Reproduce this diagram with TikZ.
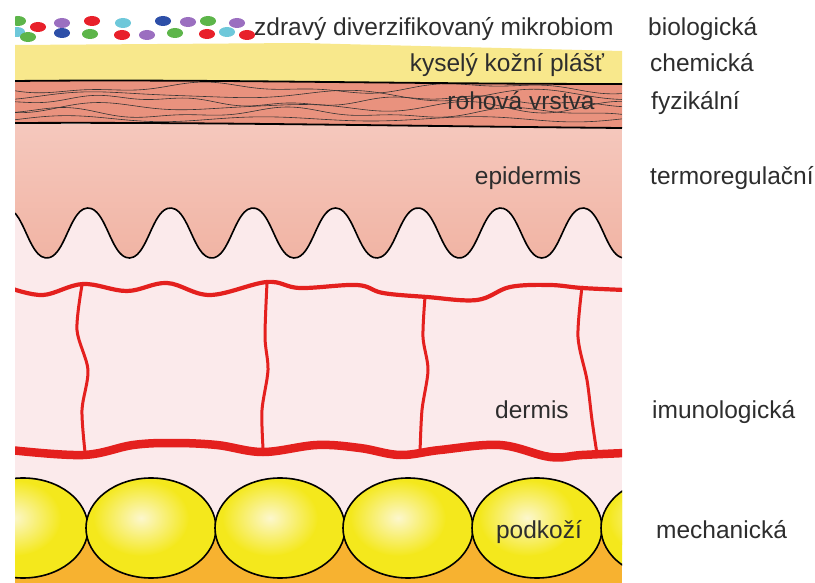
\documentclass[tikz,border=0pt]{standalone}
\usepackage{fontspec}
\setmainfont{Liberation Sans}
\usepackage{tikz}

\definecolor{TextGrey}{RGB}{45, 45, 45}
\definecolor{MantleYellow}{RGB}{248, 232, 140}
\definecolor{HornSalmon}{RGB}{233, 146, 126}
\definecolor{EpiTop}{RGB}{245, 200, 189}
\definecolor{EpiMid}{RGB}{249, 218, 209}
\definecolor{EpiLow}{RGB}{241, 180, 164}
\definecolor{DermPink}{RGB}{251, 234, 235}
\definecolor{VesselRed}{RGB}{228, 32, 30}
\definecolor{FatOrange}{RGB}{247, 178, 48}
\definecolor{CellYellow}{RGB}{244, 232, 28}
\definecolor{CellLight}{RGB}{252, 247, 205}
\definecolor{mred}{RGB}{232, 32, 42}
\definecolor{mgreen}{RGB}{93, 181, 74}
\definecolor{mpurple}{RGB}{155, 111, 192}
\definecolor{mblue}{RGB}{45, 79, 168}
\definecolor{mcyan}{RGB}{110, 200, 218}

\begin{document}
\begin{tikzpicture}[
    x=1pt, y=-1pt,
    declare function={wave(\t)=233-25*tanh(0.7*cos(4.3636*(\t-88)))/tanh(0.7);},
    lbl/.style={font=\fontsize{24.5}{28}\selectfont, text=TextGrey, inner sep=0pt, anchor=base},
    fn/.style={lbl, anchor=base west},
    vessel/.style={draw=VesselRed, line cap=round, line join=round},
    fatcell/.style={draw=black, line width=1.6pt}
]
    \useasboundingbox (0,0) rectangle (815,583);

    \begin{scope}
    \clip (15,0) rectangle (622,583);

    % dermis background
    \fill[DermPink] (15,125) rectangle (622,583);

    % epidermis down to the wavy junction
    \shade[top color=EpiTop, middle color=EpiMid, bottom color=EpiLow]
        (15,124) -- (622,124) -- plot[domain=622:15, samples=160, smooth] (\x,{wave(\x)}) -- cycle;
    \draw[line width=1.6pt] plot[domain=15:622, samples=160, smooth] (\x,{wave(\x)});

    % acid mantle
    \fill[MantleYellow] (15,45) -- (300,43) -- (622,51) -- (622,86) -- (15,84) -- cycle;

    % stratum corneum
    \fill[HornSalmon] (15,81) .. controls (200,79) and (400,84) .. (622,84)
        -- (622,128) .. controls (400,126) and (200,122) .. (15,123) -- cycle;
    \begin{scope}
        \clip (15,81) .. controls (200,79) and (400,84) .. (622,84)
            -- (622,128) .. controls (400,126) and (200,122) .. (15,123) -- cycle;
        \foreach \yy/\fa/\fb/\ph in {88/1.3/3.1/0, 95/1.7/2.3/70, 101/1.1/3.7/140,
                                     107/2.1/2.7/30, 113/1.5/3.3/200, 119/1.9/2.1/110}
            \draw[black!80, line width=0.6pt]
                plot[domain=15:622, samples=90, smooth] (\x,{\yy+4*sin(\fa*\x+\ph)+2*sin(\fb*\x+2*\ph)});
    \end{scope}
    \draw[line width=1.8pt] (15,81) .. controls (200,79) and (400,84) .. (622,84);
    \draw[line width=1.8pt] (15,123) .. controls (200,122) and (400,126) .. (622,128);

    % blood vessels
    \draw[vessel, line width=4.2pt] plot[smooth, tension=0.6] coordinates {
        (10,288) (43,295) (83,284) (127,291) (167,283) (210,295) (267,282) (300,288)
        (357,285) (383,293) (427,297) (477,300) (510,287) (550,285) (582,288) (625,290)};
    \draw[vessel, line width=8.5pt] plot[smooth, tension=0.6] coordinates {
        (10,450) (83,455) (133,445) (173,443) (217,445) (263,452) (317,445) (360,448)
        (400,455) (440,450) (500,445) (550,457) (582,455) (625,453)};
    \draw[vessel, line width=3pt] plot[smooth] coordinates {(82,285) (77,330) (88,370) (82,410) (85,452)};
    \draw[vessel, line width=3pt] plot[smooth] coordinates {(267,283) (265,337) (268,370) (262,410) (263,448)};
    \draw[vessel, line width=3pt] plot[smooth] coordinates {(425,297) (423,337) (428,370) (422,410) (420,453)};
    \draw[vessel, line width=3pt] plot[smooth] coordinates {(582,287) (578,337) (587,380) (592,420) (597,454)};

    % subcutaneous fat
    \fill[FatOrange] (15,528) rectangle (622,583);
    \foreach \cx in {23,151,280,408,537,666} {
        \fill[CellYellow] (\cx,528) ellipse [x radius=65, y radius=50];
        \shade[inner color=CellLight, outer color=CellYellow] (\cx-10,518) ellipse [x radius=48, y radius=38];
        \draw[fatcell] (\cx,528) ellipse [x radius=65, y radius=50];
    }

    % microbiome
    \foreach \px/\py/\col in {18/21/mgreen, 17/32/mcyan, 38/27/mred, 28/37/mgreen,
                              62/23/mpurple, 62/33/mblue, 92/21/mred, 90/34/mgreen,
                              123/23/mcyan, 122/35/mred, 147/35/mpurple, 163/21/mblue,
                              175/33/mgreen, 188/22/mpurple, 208/21/mgreen, 207/34/mred,
                              227/32/mcyan, 237/23/mpurple, 247/35/mred}
        \fill[\col] (\px,\py) ellipse [x radius=8, y radius=5];
    \end{scope}

    % layer names
    \node[fn] (mikrobiom) at (254,36) {zdravý diverzifikovaný mikrobiom};
    \node[lbl] (plast) at (507,72) {kyselý kožní plášť};
    \node[lbl] (rohova) at (521,110) {rohová vrstva};
    \node[lbl] (epidermis) at (528,185) {epidermis};
    \node[lbl] (dermis) at (532,418) {dermis};
    \node[lbl] (podkozi) at (539,538) {podkoží};

    % barrier functions
    \node[fn] (bio) at (648,36) {biologická};
    \node[fn] (chem) at (650,72) {chemická};
    \node[fn] (fyz) at (651,110) {fyzikální};
    \node[fn] (termo) at (650,185) {termoregulační};
    \node[fn] (imuno) at (652,418) {imunologická};
    \node[fn] (mech) at (656,538) {mechanická};
\end{tikzpicture}
\end{document}
